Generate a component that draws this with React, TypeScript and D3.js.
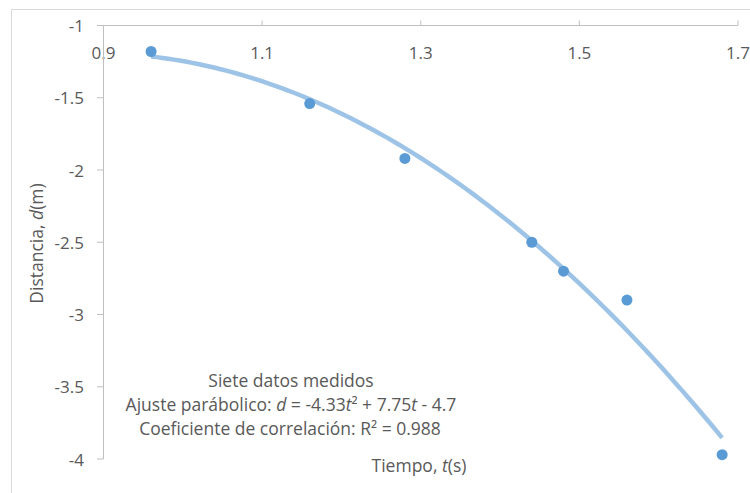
import React from "react";
import * as d3 from "d3";

const tValues = [0.96, 1.16, 1.28, 1.44, 1.48, 1.56, 1.68];
const dValues = [-1.18, -1.54, -1.92, -2.5, -2.7, -2.9, -3.97];
const xTicks = [0.9, 1.1, 1.3, 1.5, 1.7];
const yTicks = [-1, -1.5, -2, -2.5, -3, -3.5, -4];

const W = 750;
const H = 493;
const FONT = "'Open Sans', Lato, sans-serif";
const TEXT = "#595959";
const AXIS = "#BFBFBF";
const FS = 17.5;
const FT = 17;

// least-squares quadratic trendline from the data
function quadFit(xs: number[], ys: number[]) {
  const S = [0, 0, 0, 0, 0];
  const T = [0, 0, 0];
  xs.forEach((xv, i) => {
    for (let k = 0; k < 5; k++) S[k] += Math.pow(xv, k);
    for (let k = 0; k < 3; k++) T[k] += Math.pow(xv, k) * ys[i];
  });
  const M = [
    [S[4], S[3], S[2]],
    [S[3], S[2], S[1]],
    [S[2], S[1], S[0]],
  ];
  const R = [T[2], T[1], T[0]];
  const det = (m: number[][]) =>
    m[0][0] * (m[1][1] * m[2][2] - m[1][2] * m[2][1]) -
    m[0][1] * (m[1][0] * m[2][2] - m[1][2] * m[2][0]) +
    m[0][2] * (m[1][0] * m[2][1] - m[1][1] * m[2][0]);
  const D = det(M);
  const sol = [0, 1, 2].map((col) => {
    const m = M.map((row, r) => row.map((v, cIdx) => (cIdx === col ? R[r] : v)));
    return det(m) / D;
  });
  return sol as [number, number, number];
}

export default function App() {
  const x = d3.scaleLinear().domain([0.9, 1.7]).range([103.5, 738]);
  const y = d3.scaleLinear().domain([-1, -4]).range([25.5, 459]);
  const [a, b, c] = quadFit(tValues, dValues);
  const t0 = d3.min(tValues)!;
  const t1 = d3.max(tValues)!;
  const steps = d3.range(0, 101).map((i) => t0 + ((t1 - t0) * i) / 100);
  const line = d3
    .line<number>()
    .x((t) => x(t))
    .y((t) => y(a * t * t + b * t + c));

  return (
    <svg
      width={W}
      height={H}
      style={{ position: "absolute", left: 0, top: 0, background: "#fff" }}
      fontFamily={FONT}
    >
      <rect x={11.5} y={9.5} width={800} height={600} fill="#fff" stroke="#D9D9D9" strokeWidth={1} />
      <line x1={97} x2={x(1.7)} y1={y(-1)} y2={y(-1)} stroke={AXIS} strokeWidth={1} />
      {xTicks.slice(1).map((t) => (
        <line key={t} x1={x(t)} x2={x(t)} y1={y(-1) - 5} y2={y(-1)} stroke={AXIS} strokeWidth={1} />
      ))}
      {xTicks.map((t) => (
        <text key={t} x={x(t)} y={59} textAnchor="middle" fontSize={FT} fill={TEXT}>
          {String(t)}
        </text>
      ))}
      <line x1={x(0.9)} x2={x(0.9)} y1={y(-1)} y2={y(-4)} stroke={AXIS} strokeWidth={1} />
      {yTicks.map((v) => (
        <g key={v}>
          <line x1={97} x2={x(0.9)} y1={y(v)} y2={y(v)} stroke={AXIS} strokeWidth={1} />
          <text x={84} y={y(v) + 6.5} textAnchor="end" fontSize={FT} fill={TEXT}>
            {String(v)}
          </text>
        </g>
      ))}
      <path d={line(steps) || ""} fill="none" stroke="#9DC3E6" strokeWidth={4.5} />
      {tValues.map((t, i) => (
        <circle key={i} cx={x(t)} cy={y(dValues[i])} r={5.5} fill="#5B9BD5" />
      ))}
      <text x={291} y={387} textAnchor="middle" fontSize={FS} fill={TEXT}>
        Siete datos medidos
      </text>
      <text x={291} y={411} textAnchor="middle" fontSize={FS} fill={TEXT}>
        Ajuste parábolico: <tspan fontStyle="italic">d</tspan> = -4.33<tspan fontStyle="italic">t</tspan>² + 7.75
        <tspan fontStyle="italic">t</tspan> - 4.7
      </text>
      <text x={290} y={435} textAnchor="middle" fontSize={FS} fill={TEXT}>
        Coeficiente de correlación: R² = 0.988
      </text>
      <text x={419} y={472} textAnchor="middle" fontSize={FS} fill={TEXT}>
        Tiempo, <tspan fontStyle="italic">t</tspan>(s)
      </text>
      <text transform={`translate(43,243.5) rotate(-90)`} textAnchor="middle" fontSize={FS} fill={TEXT}>
        Distancia, <tspan fontStyle="italic">d</tspan>(m)
      </text>
    </svg>
  );
}
